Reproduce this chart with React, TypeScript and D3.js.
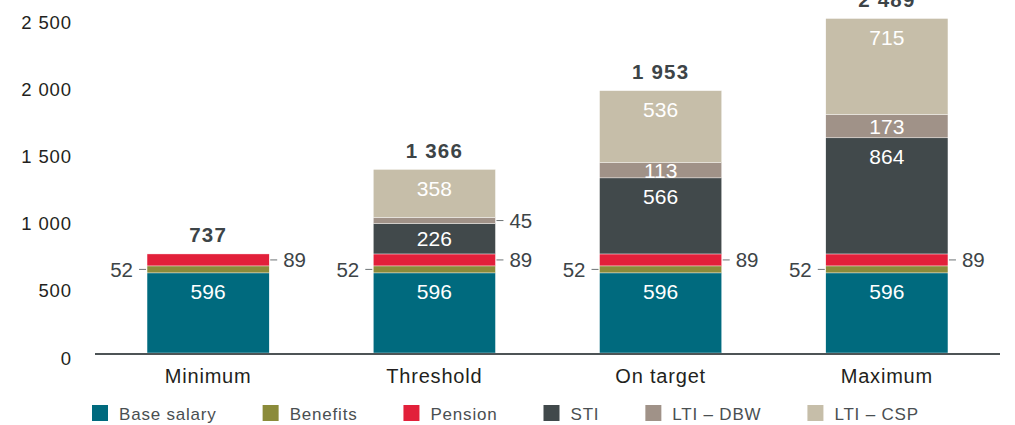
import React, { useEffect, useRef } from "react";
import * as d3 from "d3";

const categories = ["Minimum", "Threshold", "On target", "Maximum"];
const baseSalary = [596, 596, 596, 596];
const benefits = [52, 52, 52, 52];
const pension = [89, 89, 89, 89];
const sti = [0, 226, 566, 864];
const ltiDbw = [0, 45, 113, 173];
const ltiCsp = [0, 358, 536, 715];
const totals = [737, 1366, 1953, 2489];
const yTicks = [0, 500, 1000, 1500, 2000, 2500];

const seriesNames = ["Base salary", "Benefits", "Pension", "STI", "LTI – DBW", "LTI – CSP"];
const seriesValues = [baseSalary, benefits, pension, sti, ltiDbw, ltiCsp];
const seriesColors = ["#006a7e", "#8b8b3a", "#e2203a", "#41494b", "#a09288", "#c6bea9"];
const outsideSide = ["right", "left", "right", "right", "right", "right"];

const W = 1015;
const H = 425;
const FONT = "'Liberation Sans', Arial, Helvetica, sans-serif";

const fmt = (v: number) => {
  const s = String(v);
  return s.length > 3 ? s.slice(0, s.length - 3) + " " + s.slice(s.length - 3) : s;
};

export default function App() {
  const ref = useRef<SVGSVGElement>(null);

  useEffect(() => {
    const svg = d3.select(ref.current);
    svg.selectAll("*").remove();

    const x = d3.scaleBand<string>().domain(categories).range([95, 1000]).paddingInner(0.46).paddingOuter(0.23);
    const y = d3.scaleLinear().domain([0, 2500]).range([353, 17]);

    // y tick labels
    svg
      .append("g")
      .selectAll("text")
      .data(yTicks)
      .join("text")
      .attr("x", 72)
      .attr("y", (d) => y(d) + 11.5)
      .attr("text-anchor", "end")
      .attr("font-family", FONT)
      .attr("font-size", 18.5)
      .attr("letter-spacing", 0.9)
      .attr("fill", "#231f20")
      .text((d) => fmt(d));

    // stacked data
    const rows = categories.map((c, i) => {
      const r: any = { cat: c };
      seriesNames.forEach((n, k) => (r[n] = seriesValues[k][i]));
      return r;
    });
    const stack = d3.stack<any>().keys(seriesNames)(rows);

    const bw = x.bandwidth();

    stack.forEach((layer, k) => {
      const g = svg.append("g");
      layer.forEach((seg, i) => {
        const v = seriesValues[k][i];
        if (v <= 0) return;
        const cat = categories[i];
        const x0 = x(cat)!;
        const top = y(seg[1]);
        const bot = y(seg[0]);
        g.append("rect")
          .attr("x", x0)
          .attr("y", top)
          .attr("width", bw)
          .attr("height", bot - top)
          .attr("fill", seriesColors[k])
          .attr("stroke", "#ffffff")
          .attr("stroke-width", 0.4);
        const mid = (top + bot) / 2;
        if (v >= 100) {
          g.append("text")
            .attr("x", x0 + bw / 2)
            .attr("y", Math.min(top + 19, mid))
            .attr("dy", "0.36em")
            .attr("text-anchor", "middle")
            .attr("font-family", FONT)
            .attr("font-size", 21)
            .attr("fill", "#ffffff")
            .text(fmt(v));
        } else {
          const left = outsideSide[k] === "left";
          const edge = left ? x0 : x0 + bw;
          const dir = left ? -1 : 1;
          g.append("line")
            .attr("x1", edge + dir * 1)
            .attr("x2", edge + dir * 8)
            .attr("y1", mid)
            .attr("y2", mid)
            .attr("stroke", "#6d7375")
            .attr("stroke-width", 1);
          g.append("text")
            .attr("x", edge + dir * 14)
            .attr("y", mid)
            .attr("dy", "0.36em")
            .attr("text-anchor", left ? "end" : "start")
            .attr("font-family", FONT)
            .attr("font-size", 20.5)
            .attr("fill", "#3d4447")
            .text(fmt(v));
        }
      });
    });

    // totals
    svg
      .append("g")
      .selectAll("text")
      .data(categories)
      .join("text")
      .attr("x", (c) => x(c)! + bw / 2)
      .attr("y", (c, i) => y(totals[i]) - 19)
      .attr("dy", "0.36em")
      .attr("text-anchor", "middle")
      .attr("font-family", FONT)
      .attr("font-size", 20.5)
      .attr("font-weight", "bold")
      .attr("letter-spacing", 1.2)
      .attr("fill", "#3d4447")
      .text((c, i) => fmt(totals[i]));

    // axis baseline
    svg
      .append("line")
      .attr("x1", 95)
      .attr("x2", 1000)
      .attr("y1", y(0) + 1)
      .attr("y2", y(0) + 1)
      .attr("stroke", "#4d5456")
      .attr("stroke-width", 2.2);

    // category labels
    svg
      .append("g")
      .selectAll("text")
      .data(categories)
      .join("text")
      .attr("x", (c) => x(c)! + bw / 2)
      .attr("y", 383)
      .attr("text-anchor", "middle")
      .attr("font-family", FONT)
      .attr("font-size", 20)
      .attr("letter-spacing", 0.8)
      .attr("fill", "#231f20")
      .text((c) => c);

    // legend
    const lg = svg.append("g");
    let cx = 92;
    seriesNames.forEach((n, k) => {
      lg.append("rect")
        .attr("x", cx)
        .attr("y", 405)
        .attr("width", 16)
        .attr("height", 16)
        .attr("fill", seriesColors[k]);
      const t = lg
        .append("text")
        .attr("x", cx + 27)
        .attr("y", 419.5)
        .attr("font-family", FONT)
        .attr("font-size", 17)
        .attr("letter-spacing", 0.8)
        .attr("fill", "#4a4f52")
        .text(n);
      const w = (t.node() as SVGTextElement).getComputedTextLength();
      cx = cx + 27 + w + 46;
    });
  }, []);

  return (
    <svg
      ref={ref}
      width={W}
      height={H}
      style={{ position: "absolute", left: 0, top: 0, background: "#ffffff", display: "block" }}
    />
  );
}
